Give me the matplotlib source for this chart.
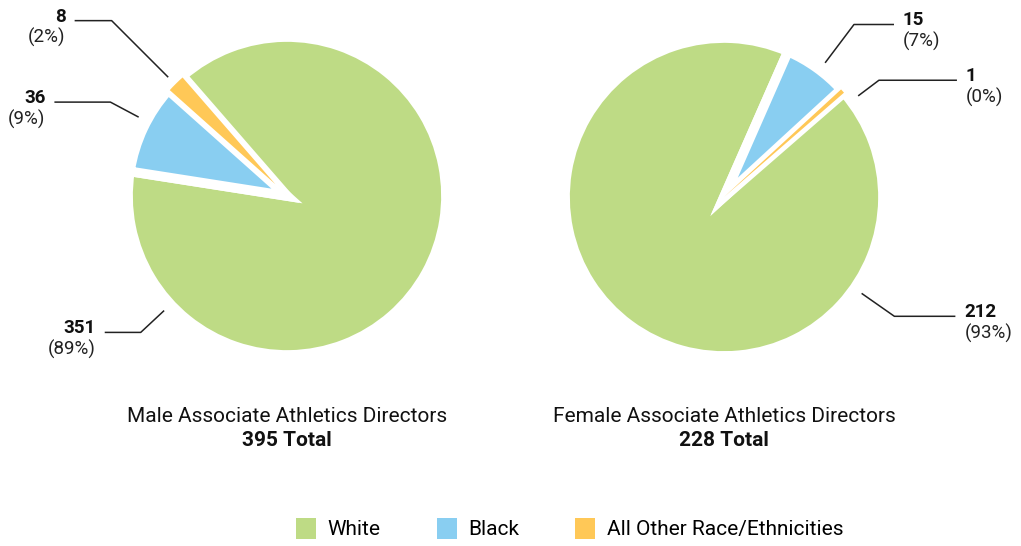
import numpy as np
import matplotlib.pyplot as plt
from matplotlib.patches import Patch

plt.rcParams['font.family'] = ['Roboto', 'DejaVu Sans']

categories = ['White', 'Black', 'All Other Race/Ethnicities']
colors = ['#BEDB85', '#89CEF1', '#FFC857']
male_counts = [351, 36, 8]
female_counts = [212, 15, 1]
titles = ['Male Associate Athletics Directors', 'Female Associate Athletics Directors']

# layout (figure pixels, y up)
W, H = 1021, 546
R = 159
centers = [(287, 350), (724, 349)]
starts = [131, 41]
# label leader: anchor angle, elbow radius, horizontal length
label_layout = [
    [(223, 200, 36), (152, 200, 56), (135, 248, 37)],
    [(-35, 208, 61), (53, 216, 40), (37, 194, 78)],
]

fig = plt.figure(figsize=(W / 100, H / 100), dpi=100)
ax = fig.add_axes([0, 0, 1, 1])

for k, counts in enumerate([male_counts, female_counts]):
    cx, cy = centers[k]
    total = sum(counts)
    wedges, _ = ax.pie(counts, colors=colors, startangle=starts[k], counterclock=False,
                       center=(cx, cy), radius=R,
                       wedgeprops=dict(edgecolor='white', linewidth=7))
    # small slices keep a thin outline so they stay visible
    for i, w in enumerate(wedges):
        share = counts[i] / total
        if share < 0.01:
            w.set_linewidth(0)
            w.set_zorder(5)
        elif share < 0.05:
            w.set_linewidth(1.5)
            w.set_zorder(4)

    side = -1 if k == 0 else 1
    for i, v in enumerate(counts):
        ang, r2, hl = label_layout[k][i]
        a = np.deg2rad(ang)
        x1, y1 = cx + 168 * np.cos(a), cy + 168 * np.sin(a)
        x2, y2 = cx + r2 * np.cos(a), cy + r2 * np.sin(a)
        x3 = x2 + side * hl
        ax.plot([x1, x2, x3], [y1, y2, y2], color='#222222', lw=1.1, solid_capstyle='butt')
        ha = 'right' if side < 0 else 'left'
        tx = x3 + side * 9
        ax.text(tx, y2 + 4, str(v), ha=ha, va='center', fontsize=13.5, fontweight='bold', color='#111111')
        ax.text(tx, y2 - 17, '(%d%%)' % round(v / total * 100), ha=ha, va='center',
                fontsize=13.5, color='#222222')

    ax.text(cx, H - 417, titles[k], ha='center', va='center', fontsize=15, color='#111111')
    ax.text(cx, H - 441, '%d Total' % total, ha='center', va='center', fontsize=15,
            fontweight='bold', color='#111111')

ax.set_xlim(0, W)
ax.set_ylim(0, H)
ax.set_aspect('equal')
ax.axis('off')

handles = [Patch(facecolor=c, label=l) for c, l in zip(colors, categories)]
fig.legend(handles=handles, loc='lower center', bbox_to_anchor=(0.558, -0.022), ncol=3,
           frameon=False, fontsize=15, handlelength=0.96, handleheight=1.15,
           handletextpad=0.55, columnspacing=2.7)

fig.savefig('out.png', dpi=100)
